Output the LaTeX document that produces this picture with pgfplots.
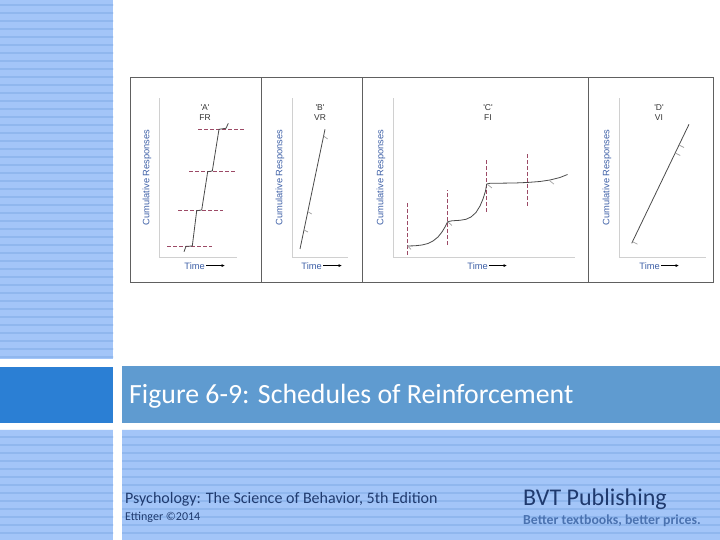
\documentclass[border=0pt]{standalone}
\usepackage{pgfplots}
\pgfplotsset{compat=1.18}
\usepackage{fontspec}
\setmainfont{Carlito}
\newfontfamily\arial{Liberation Sans}
\usetikzlibrary{arrows.meta}
\definecolor{stripelight}{HTML}{A3C5F8}
\definecolor{stripedark}{HTML}{90B7EE}
\definecolor{darkband}{HTML}{2B7FD4}
\definecolor{titleband}{HTML}{5F9BD0}
\definecolor{navy}{HTML}{1F3A6E}
\definecolor{tagblue}{HTML}{4A72B0}
\definecolor{labblue}{HTML}{3D5FA6}
\definecolor{axisgray}{HTML}{D0D0D0}
\definecolor{curvegray}{HTML}{4A4A4A}
\definecolor{hatchgray}{HTML}{A0A0A0}
\definecolor{refmaroon}{HTML}{9C4A66}
\definecolor{boxgray}{HTML}{606060}
\definecolor{ttlgray}{HTML}{333333}
\newcommand{\labfont}{\arial\fontsize{9.3}{11}\selectfont}
\newcommand{\ttlfont}{\arial\fontsize{8.5}{9.5}\selectfont}
\pgfplotsset{
  panel/.style={
    scale only axis, anchor=south west,
    axis x line=bottom, axis y line=left,
    axis line style={draw=axisgray, line width=0.9pt, -},
    xtick=\empty, ytick=\empty, clip=false,
    xmin=0, ymin=0, ymax=159, height=159pt,
    unbounded coords=jump,
  },
  refdash/.style={draw=refmaroon, line width=0.85pt, solid, no marks},
}
\newcommand{\panellabels}[4]{% ttl-u, title, time-u, arrow-end-u
  \node[rotate=90, text=labblue, font=\labfont, inner sep=0] at (axis cs:-12,79.5) {Cumulative Responses};
  \node[align=center, font=\ttlfont, text=ttlgray, inner sep=0] at (axis cs:#1,144.5) {#2};
  \node[anchor=east, text=labblue, font=\labfont, inner sep=0] at (axis cs:#3,-9) {Time};
  \draw[black, line width=0.6pt, -{Latex[length=3.5pt,width=3pt]}] (axis cs:#3+1,-8.6) -- (axis cs:#4,-8.6);
}
\begin{document}
\begin{tikzpicture}
\begin{scope}[x=1pt,y=1pt]
\path[use as bounding box] (0,0) rectangle (720,540);
% striped backgrounds
\fill[stripelight] (0,181) rectangle (113,540);
\fill[stripelight] (0,0) rectangle (113,110);
\fill[stripelight] (122,0) rectangle (720,110);
\begin{scope}
\clip (0,181) rectangle (113,540) (0,0) rectangle (113,110) (122,0) rectangle (720,110);
\foreach \k in {0,...,67} { \fill[stripedark] (0,{540-8*\k-6}) rectangle (720,{540-8*\k-3.6}); }
\end{scope}
% bands
\fill[darkband] (0,117) rectangle (113,173);
\fill[titleband] (122,117) rectangle (720,174);
\node[anchor=base west, text=white, font=\fontsize{27.8}{31}\selectfont, inner sep=0] at (129,136) {Figure 6-9: Schedules of Reinforcement};
% footer
\node[anchor=base west, text=navy, font=\fontsize{16}{18}\selectfont, inner sep=0] at (125,36) {Psychology: The Science of Behavior, 5th Edition};
\node[anchor=base west, text=navy, font=\fontsize{12}{14}\selectfont, inner sep=0] at (125,19) {Ettinger ©2014};
\node[anchor=base west, text=navy, font=\fontsize{24}{28}\selectfont, inner sep=0] at (523,34) {BVT Publishing};
\node[anchor=base west, text=tagblue, font=\bfseries\fontsize{13.8}{15}\selectfont, inner sep=0] at (523,15) {Better textbooks, better prices.};
% figure frame
\draw[boxgray, line width=0.9pt] (130,258) rectangle (713,463);
\draw[boxgray, line width=0.9pt] (261,258) -- (261,463);
\draw[boxgray, line width=0.9pt] (362,258) -- (362,463);
\draw[boxgray, line width=0.9pt] (588,258) -- (588,463);
\end{scope}

% Panel A: FR
\begin{axis}[panel, at={(159pt,283pt)}, width=78pt, xmax=78]
\addplot[refdash] coordinates {
 (8,11) (12,11) (12,nan) (14,11) (18,11) (18,nan) (20,11) (24,11) (24,nan) (26,11) (30,11) (30,nan)
 (32,11) (36,11) (36,nan) (38,11) (42,11) (42,nan) (44,11) (48,11) (48,nan) (50,11) (53,11) (53,nan)
 (19,46.5) (23,46.5) (23,nan) (25,46.5) (29,46.5) (29,nan) (31,46.5) (35,46.5) (35,nan) (37,46.5) (41,46.5) (41,nan)
 (43,46.5) (47,46.5) (47,nan) (49,46.5) (53,46.5) (53,nan) (55,46.5) (59,46.5) (59,nan) (61,46.5) (64,46.5) (64,nan)
 (30,85.5) (34,85.5) (34,nan) (36,85.5) (40,85.5) (40,nan) (42,85.5) (46,85.5) (46,nan) (48,85.5) (52,85.5) (52,nan)
 (54,85.5) (58,85.5) (58,nan) (60,85.5) (64,85.5) (64,nan) (66,85.5) (70,85.5) (70,nan) (72,85.5) (76,85.5) (76,nan)
 (39,128) (43,128) (43,nan) (45,128) (49,128) (49,nan) (51,128) (55,128) (55,nan) (57,128) (61,128) (61,nan)
 (63,128) (67,128) (67,nan) (69,128) (73,128) (73,nan) (75,128) (79,128) (79,nan) (81,128) (85,128)
};
\addplot[draw=curvegray, line width=0.8pt] coordinates {(25,5.3) (27,10.6) (33.3,11) (37.7,46.3) (42.7,47) (48.7,85.3) (53.3,86) (60,127.7) (67,128.7) (69.3,133.7)};
\panellabels{46}{'A'\\FR}{46}{66}
\end{axis}

% Panel B: VR
\begin{axis}[panel, at={(292pt,283pt)}, width=56pt, xmax=56]
\addplot[draw=curvegray, line width=0.8pt] coordinates {(8,8) (33,127.7)};
\addplot[draw=hatchgray, line width=0.7pt] coordinates {(31.6,121) (35.6,118)};
\addplot[draw=hatchgray, line width=0.7pt] coordinates {(15.8,45.3) (19.8,43)};
\addplot[draw=hatchgray, line width=0.7pt] coordinates {(12,27) (16,25)};
\panellabels{28}{'B'\\VR}{30}{50}
\end{axis}

% Panel C: FI
\begin{axis}[panel, at={(393pt,283pt)}, width=182pt, xmax=182]
\addplot[refdash] coordinates {
 (14.3,2) (14.3,6) (nan,6) (14.3,8) (14.3,12) (nan,12) (14.3,14) (14.3,18) (nan,18) (14.3,20) (14.3,24) (nan,24)
 (14.3,26) (14.3,30) (nan,30) (14.3,32) (14.3,36) (nan,36) (14.3,38) (14.3,42) (nan,42) (14.3,44) (14.3,48) (nan,48)
 (14.3,50) (14.3,54) (nan,54)
 (54.7,12) (54.7,16) (nan,16) (54.7,18) (54.7,22) (nan,22) (54.7,24) (54.7,28) (nan,28) (54.7,30) (54.7,34) (nan,34)
 (54.7,36) (54.7,40) (nan,40) (54.7,42) (54.7,46) (nan,46) (54.7,48) (54.7,52) (nan,52) (54.7,54) (54.7,58) (nan,58)
 (54.7,60) (54.7,64) (nan,64) (54.7,66) (54.7,67) (nan,67)
 (93.7,45) (93.7,49) (nan,49) (93.7,51) (93.7,55) (nan,55) (93.7,57) (93.7,61) (nan,61) (93.7,63) (93.7,67) (nan,67)
 (93.7,69) (93.7,73) (nan,73) (93.7,75) (93.7,79) (nan,79) (93.7,81) (93.7,85) (nan,85) (93.7,87) (93.7,91) (nan,91)
 (93.7,93) (93.7,97) (nan,97)
 (134.3,51) (134.3,55) (nan,55) (134.3,57) (134.3,61) (nan,61) (134.3,63) (134.3,67) (nan,67) (134.3,69) (134.3,73) (nan,73)
 (134.3,75) (134.3,79) (nan,79) (134.3,81) (134.3,85) (nan,85) (134.3,87) (134.3,91) (nan,91) (134.3,93) (134.3,97) (nan,97)
 (134.3,99) (134.3,103)
};
\addplot[draw=curvegray, line width=0.8pt] coordinates {(14.5,11) (22,11.2) (29,12) (35,13.5) (40,16) (45,20) (49,25) (52,30) (54.7,35.3)
 (59,36.2) (67,36.7) (73,37.7) (78,40) (83,44.5) (87,51) (90,58) (92.5,66) (93.7,73)
 (97,73.7) (107,73.8) (122,74) (134,74.5) (147,75.5) (157,77) (167,79.5) (174.5,82.5)};
\addplot[draw=hatchgray, line width=0.7pt] coordinates {(14.5,11) (18,7.5)};
\addplot[draw=hatchgray, line width=0.7pt] coordinates {(55,35) (59,31.5)};
\addplot[draw=hatchgray, line width=0.7pt] coordinates {(94.5,72.5) (99,69)};
\addplot[draw=hatchgray, line width=0.7pt] coordinates {(156,76.8) (161,72.8)};
\panellabels{95}{'C'\\FI}{95}{114}
\end{axis}

% Panel D: VI
\begin{axis}[panel, at={(619pt,283pt)}, width=87pt, xmax=87]
\addplot[draw=curvegray, line width=0.8pt] coordinates {(12.7,13.7) (70,132.7)};
\addplot[draw=hatchgray, line width=0.7pt] coordinates {(13.5,15.3) (18.5,12.8)};
\addplot[draw=hatchgray, line width=0.7pt] coordinates {(60,112) (65,109.5)};
\addplot[draw=hatchgray, line width=0.7pt] coordinates {(56.2,104) (61.2,101.5)};
\panellabels{40}{'D'\\VI}{41}{60}
\end{axis}
\end{tikzpicture}
\end{document}
